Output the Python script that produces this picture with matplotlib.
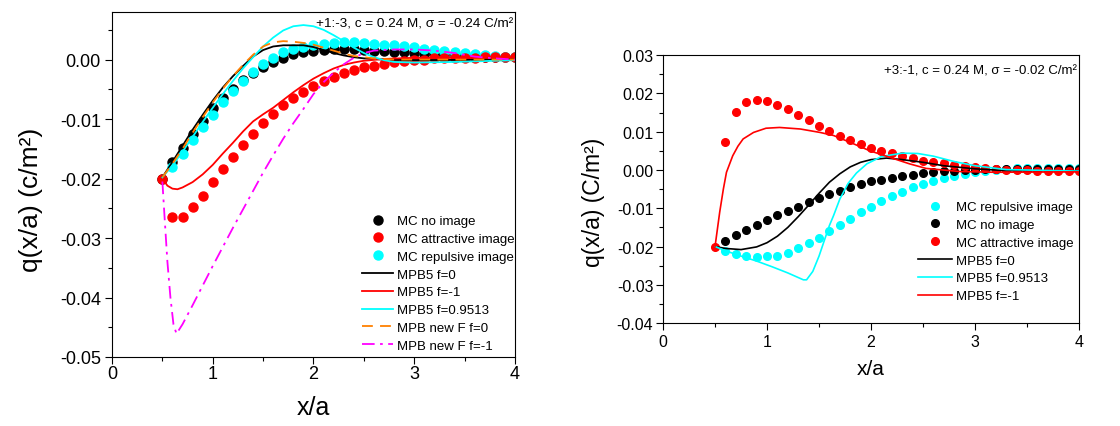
import numpy as np
import matplotlib
matplotlib.use("Agg")
import matplotlib.pyplot as plt
from matplotlib.ticker import MultipleLocator, FuncFormatter

plt.rcParams['font.family'] = ['Liberation Sans', 'DejaVu Sans']
plt.rcParams['axes.unicode_minus'] = False

# ---------------- left panel: +1:-3 ----------------
x_mc_l = np.round(np.arange(0.5, 4.01, 0.1), 2)
mc_noimg_l = [-0.0200, -0.0173, -0.0148, -0.0125, -0.0103, -0.0082, -0.0065, -0.0049, -0.0035, -0.0023,
              -0.0012, -0.0004, 0.0003, 0.0009, 0.0012, 0.0015, 0.0016, 0.0017, 0.0017, 0.0017,
              0.0016, 0.0015, 0.0014, 0.0013, 0.0012, 0.0011, 0.0010, 0.0009, 0.0008, 0.0007,
              0.0007, 0.0006, 0.0005, 0.0005, 0.0004, 0.0004]
mc_attr_l = [-0.0200, -0.0265, -0.0265, -0.0248, -0.0229, -0.0206, -0.0184, -0.0163, -0.0143, -0.0125,
             -0.0107, -0.0092, -0.0077, -0.0065, -0.0054, -0.0045, -0.0036, -0.0029, -0.0023, -0.0017,
             -0.0013, -0.0010, -0.0007, -0.0004, -0.0002, -0.0001, 0.0000, 0.0002, 0.0002, 0.0003,
             0.0003, 0.0003, 0.0004, 0.0004, 0.0004, 0.0004]
mc_rep_l = [np.nan, -0.0181, -0.0159, -0.0136, -0.0114, -0.0093, -0.0072, -0.0053, -0.0036, -0.0021,
            -0.0008, 0.0003, 0.0012, 0.0017, 0.0021, 0.0025, 0.0027, 0.0028, 0.0029, 0.0029,
            0.0028, 0.0026, 0.0025, 0.0024, 0.0023, 0.0021, 0.0018, 0.0016, 0.0015, 0.0013,
            0.0011, 0.0010, 0.0008, 0.0006, 0.0005, 0.0004]

x_mpb0_l = [0.5, 0.6, 0.7, 0.8, 0.9, 1.0, 1.1, 1.2, 1.3, 1.4, 1.5, 1.6, 1.7, 1.8, 1.9, 2.0, 2.1, 2.2,
            2.3, 2.4, 2.5, 2.7, 3.0, 4.0]
y_mpb0_l = [-0.0198, -0.0172, -0.0145, -0.0118, -0.0093, -0.0069, -0.0047, -0.0028, -0.0011, 0.0005,
            0.0016, 0.0022, 0.0024, 0.0024, 0.0024, 0.0021, 0.0016, 0.0011, 0.0007, 0.0004, 0.0002,
            0.0000, -0.0001, 0.0000]
x_mpbm1_l = [0.5, 0.55, 0.6, 0.65, 0.7, 0.8, 0.9, 1.0, 1.1, 1.2, 1.3, 1.4, 1.5, 1.6, 1.7, 1.8, 1.9,
             2.0, 2.1, 2.2, 2.3, 2.4, 2.5, 2.7, 3.0, 4.0]
y_mpbm1_l = [-0.0200, -0.0212, -0.0217, -0.0218, -0.0215, -0.0206, -0.0193, -0.0177, -0.0158, -0.0140,
             -0.0121, -0.0104, -0.0092, -0.0081, -0.0068, -0.0055, -0.0043, -0.0032, -0.0023, -0.0015,
             -0.0009, -0.0005, -0.0002, 0.0001, 0.0003, 0.0004]
x_mpbrep_l = [0.5, 0.6, 0.7, 0.8, 0.9, 1.0, 1.1, 1.2, 1.3, 1.4, 1.5, 1.6, 1.7, 1.8, 1.9, 2.0, 2.1,
              2.2, 2.3, 2.4, 2.5, 2.6, 2.7, 2.8, 3.0, 3.4, 4.0]
y_mpbrep_l = [-0.0198, -0.0178, -0.0155, -0.0130, -0.0105, -0.0081, -0.0058, -0.0036, -0.0015, 0.0004,
              0.0022, 0.0037, 0.0049, 0.0056, 0.0058, 0.0056, 0.0050, 0.0041, 0.0031, 0.0020, 0.0011,
              0.0004, -0.0001, -0.0004, -0.0005, -0.0004, -0.0001]
x_newf0_l = [0.5, 0.6, 0.7, 0.8, 0.9, 1.0, 1.1, 1.2, 1.3, 1.4, 1.5, 1.6, 1.7, 1.8, 1.9, 2.0, 2.1, 2.2,
             2.3, 2.4, 2.6, 2.8, 4.0]
y_newf0_l = [-0.0198, -0.0175, -0.0150, -0.0123, -0.0097, -0.0072, -0.0049, -0.0028, -0.0009, 0.0008,
             0.0022, 0.0029, 0.0031, 0.0030, 0.0028, 0.0025, 0.0020, 0.0015, 0.0010, 0.0006, 0.0002,
             0.0000, 0.0000]
x_newfm1_l = [0.5, 0.52, 0.55, 0.58, 0.61, 0.64, 0.7, 0.8, 0.9, 1.0, 1.1, 1.2, 1.3, 1.4, 1.5, 1.6, 1.7,
              1.8, 1.9, 2.0, 2.1, 2.2, 2.3, 2.4, 2.5, 2.6, 2.8, 3.0, 3.2, 3.4, 3.6, 3.8, 4.0]
y_newfm1_l = [-0.0205, -0.0260, -0.0340, -0.0400, -0.0445, -0.0461, -0.0445, -0.0413, -0.0380, -0.0347,
              -0.0315, -0.0283, -0.0252, -0.0221, -0.0190, -0.0161, -0.0133, -0.0107, -0.0083, -0.0058,
              -0.0038, -0.0022, -0.0008, 0.0003, 0.0011, 0.0015, 0.0017, 0.0017, 0.0015, 0.0011,
              0.0005, 0.0002, 0.0000]

# ---------------- right panel: +3:-1 ----------------
x_mc_r = np.round(np.arange(0.5, 4.01, 0.1), 2)
mc_rep_r = [np.nan, -0.0212, -0.0219, -0.0225, -0.0228, -0.0226, -0.0224, -0.0217, -0.0205, -0.0191,
            -0.0178, -0.0160, -0.0145, -0.0128, -0.0111, -0.0096, -0.0082, -0.0069, -0.0057, -0.0045,
            -0.0037, -0.0028, -0.0021, -0.0015, -0.0010, -0.0006, -0.0003, 0.0001, 0.0003, 0.0004,
            0.0004, 0.0004, 0.0004, 0.0004, 0.0004, 0.0004]
mc_noimg_r = [np.nan, -0.0185, -0.0170, -0.0156, -0.0143, -0.0130, -0.0117, -0.0106, -0.0096, -0.0083,
              -0.0074, -0.0064, -0.0056, -0.0045, -0.0037, -0.0030, -0.0026, -0.0021, -0.0015, -0.0012,
              -0.0009, -0.0006, -0.0004, -0.0002, 0.0000, 0.0001, 0.0002, 0.0003, 0.0003, 0.0003,
              0.0003, 0.0003, 0.0003, 0.0003, 0.0003, 0.0003]
mc_attr_r = [-0.0200, 0.0072, 0.0152, 0.0178, 0.0184, 0.0179, 0.0170, 0.0158, 0.0144, 0.0131,
             0.0116, 0.0103, 0.0090, 0.0077, 0.0068, 0.0058, 0.0050, 0.0043, 0.0036, 0.0030,
             0.0024, 0.0020, 0.0017, 0.0013, 0.0010, 0.0007, 0.0004, 0.0002, 0.0001, 0.0000,
             -0.0001, -0.0002, -0.0002, -0.0002, -0.0002, -0.0002]

x_mpb0_r = [0.5, 0.6, 0.75, 0.9, 1.0, 1.1, 1.2, 1.3, 1.4, 1.5, 1.6, 1.7, 1.8, 1.9, 2.0, 2.15, 2.3,
            2.5, 2.7, 3.0, 3.3, 4.0]
y_mpb0_r = [-0.0200, -0.0205, -0.0208, -0.0201, -0.0190, -0.0173, -0.0150, -0.0122, -0.0092, -0.0061,
            -0.0032, -0.0010, 0.0008, 0.0020, 0.0027, 0.0031, 0.0027, 0.0020, 0.0011, 0.0003, -0.0002,
            -0.0002]
x_mpbrep_r = [0.5, 0.6, 0.75, 0.9, 1.05, 1.2, 1.35, 1.38, 1.44, 1.5, 1.54, 1.6, 1.64, 1.7, 1.78, 1.86,
              1.96, 2.1, 2.3, 2.45, 2.6, 2.8, 3.0, 3.3, 4.0]
y_mpbrep_r = [-0.0200, -0.0211, -0.0225, -0.0238, -0.0253, -0.0269, -0.0287, -0.0287, -0.0265, -0.0225,
              -0.0193, -0.0145, -0.0119, -0.0076, -0.0035, -0.0008, 0.0016, 0.0035, 0.0044, 0.0043,
              0.0036, 0.0022, 0.0011, 0.0001, -0.0003]
x_mpbm1_r = [0.5, 0.52, 0.545, 0.58, 0.61, 0.67, 0.72, 0.77, 0.87, 0.99, 1.12, 1.32, 1.51, 1.64, 1.8,
             1.99, 2.18, 2.37, 2.53, 2.85, 3.18, 4.0]
y_mpbm1_r = [-0.0200, -0.0160, -0.0110, -0.0050, -0.0006, 0.0037, 0.0062, 0.0081, 0.0098, 0.0109,
             0.0111, 0.0107, 0.0098, 0.0090, 0.0072, 0.0050, 0.0033, 0.0016, 0.0004, -0.0004, -0.0006,
             -0.0005]


def fmt2(v, pos):
    s = f'{v:.2f}'
    return '0.00' if s == '-0.00' else s


fig = plt.figure(figsize=(11.2, 4.27), dpi=100)
axL = fig.add_axes([0.1, 0.1616, 0.3598, 0.808])
axR = fig.add_axes([0.592, 0.241, 0.3714, 0.6276])

cyan = '#00FFFF'

# left
axL.plot(x_mc_l, mc_noimg_l, 'o', color='black', ms=6.5, label='MC no image', zorder=2)
axL.plot(x_mc_l, mc_rep_l, 'o', color=cyan, ms=6.5, label='MC repulsive image', zorder=2.1)
axL.plot(x_mc_l, mc_attr_l, 'o', color='red', ms=6.5, label='MC attractive image', zorder=2.2)
axL.plot(x_mpb0_l, y_mpb0_l, '-', color='black', lw=1.3, label='MPB5 f=0', zorder=3)
axL.plot(x_mpbm1_l, y_mpbm1_l, '-', color='red', lw=1.3, label='MPB5 f=-1', zorder=3)
axL.plot(x_mpbrep_l, y_mpbrep_l, '-', color=cyan, lw=1.3, label='MPB5 f=0.9513', zorder=3)
axL.plot(x_newf0_l, y_newf0_l, '--', color='#FF8000', lw=1.3, dashes=(6, 4), label='MPB new F f=0', zorder=3)
axL.plot(x_newfm1_l, y_newfm1_l, '-.', color='#FF00FF', lw=1.3, dashes=(7, 3, 1.5, 3), label='MPB new F f=-1', zorder=3)

axL.set_xlim(0, 4)
axL.set_ylim(-0.05, 0.008)
axL.yaxis.set_major_locator(MultipleLocator(0.01))
axL.yaxis.set_minor_locator(MultipleLocator(0.005))
axL.yaxis.set_major_formatter(FuncFormatter(fmt2))
axL.xaxis.set_major_locator(MultipleLocator(1))
axL.xaxis.set_minor_locator(MultipleLocator(0.5))
axL.tick_params(which='both', direction='out', top=False, right=False, width=0.8)
axL.tick_params(which='major', length=5, labelsize=13)
axL.tick_params(which='minor', length=3)
axL.tick_params(axis='x', pad=1)
axL.tick_params(axis='y', pad=3)
axL.set_xlabel('x/a', fontsize=18)
axL.set_ylabel('q(x/a) (c/m²)', fontsize=19)
axL.xaxis.set_label_coords(0.5, -0.11)
axL.yaxis.set_label_coords(-0.17, 0.458)
axL.text(0.995, 0.985, '+1:-3, c = 0.24 M, σ = -0.24 C/m²', transform=axL.transAxes,
         ha='right', va='top', fontsize=9.7)

hL, lL = axL.get_legend_handles_labels()
order = [0, 2, 1, 3, 4, 5, 6, 7]
axL.legend([hL[i] for i in order], [lL[i] for i in order], loc='upper right',
           bbox_to_anchor=(515 / 1120, (427 - 216) / 427), bbox_transform=fig.transFigure,
           frameon=False, fontsize=9.5, borderpad=0, borderaxespad=0, numpoints=1,
           handlelength=2.4, handletextpad=0.3, labelspacing=0.42)

# right
axR.plot(x_mc_r, mc_rep_r, 'o', color=cyan, ms=5.5, label='MC repulsive image', zorder=2)
axR.plot(x_mc_r, mc_noimg_r, 'o', color='black', ms=5.5, label='MC no image', zorder=2.1)
axR.plot(x_mc_r, mc_attr_r, 'o', color='red', ms=5.5, label='MC attractive image', zorder=2.2)
axR.plot(x_mpb0_r, y_mpb0_r, '-', color='black', lw=1.2, label='MPB5 f=0', zorder=3)
axR.plot(x_mpbrep_r, y_mpbrep_r, '-', color=cyan, lw=1.2, label='MPB5 f=0.9513', zorder=3)
axR.plot(x_mpbm1_r, y_mpbm1_r, '-', color='red', lw=1.2, label='MPB5 f=-1', zorder=3)

axR.set_xlim(0, 4)
axR.set_ylim(-0.04, 0.03)
axR.yaxis.set_major_locator(MultipleLocator(0.01))
axR.yaxis.set_minor_locator(MultipleLocator(0.005))
axR.yaxis.set_major_formatter(FuncFormatter(fmt2))
axR.xaxis.set_major_locator(MultipleLocator(1))
axR.xaxis.set_minor_locator(MultipleLocator(0.5))
axR.tick_params(which='both', direction='out', top=False, right=False, width=0.8)
axR.tick_params(which='major', length=5, labelsize=11.5)
axR.tick_params(which='minor', length=3)
axR.tick_params(axis='x', pad=3)
axR.tick_params(axis='y', pad=2)
axR.set_xlabel('x/a', fontsize=15)
axR.set_ylabel('q(x/a) (C/m²)', fontsize=16.5)
axR.xaxis.set_label_coords(0.5, -0.135)
axR.yaxis.set_label_coords(-0.14, 0.455)
axR.text(0.995, 0.965, '+3:-1, c = 0.24 M, σ = -0.02 C/m²', transform=axR.transAxes,
         ha='right', va='top', fontsize=9.5)
axR.legend(loc='upper right', bbox_to_anchor=(1074 / 1120, (427 - 202) / 427),
           bbox_transform=fig.transFigure, frameon=False, fontsize=9.5, borderpad=0,
           borderaxespad=0, numpoints=1, handlelength=2.6, handletextpad=0.3, labelspacing=0.42)

fig.savefig('out.png', dpi=100)
